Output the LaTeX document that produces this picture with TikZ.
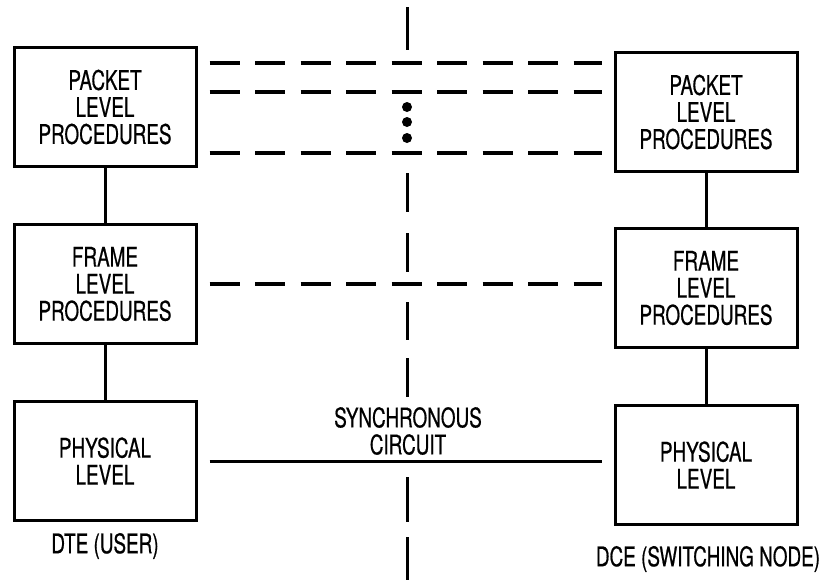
\documentclass[tikz,border=0pt]{standalone}
\usepackage{fontspec}
\setsansfont[FakeStretch=0.70, FakeBold=0.6]{TeX Gyre Heros}
\usepackage{tikz}
\usetikzlibrary{positioning,calc}
\newcommand{\lvlfont}{\sffamily\fontsize{13.5}{13.5}\selectfont}

\begin{document}
\begin{tikzpicture}[
    x=0.5pt, y=-0.5pt,
    layer/.style={draw, line width=1.5pt, minimum width=91pt, minimum height=59.5pt, align=center, font=\lvlfont},
    peer/.style={line width=1.6pt, dash pattern=on 15pt off 7.75pt, shorten <=6pt, shorten >=6pt},
    link/.style={line width=1.5pt},
    divider/.style={line width=1.5pt}
  ]
  \useasboundingbox (0,0) rectangle (835,580);

  % DTE side
  \node[layer] (lpkt) at (105,107) {PACKET\\LEVEL\\PROCEDURES};
  \node[layer] (lfrm) at (105,284) {FRAME\\LEVEL\\PROCEDURES};
  \node[layer] (lphy) at (105,461) {PHYSICAL\\LEVEL};
  \node[font=\lvlfont] (dte) at (105,546) {DTE (USER)};

  % DCE side
  \node[layer] (rpkt) at (706,112) {PACKET\\LEVEL\\PROCEDURES};
  \node[layer] (rfrm) at (706,288) {FRAME\\LEVEL\\PROCEDURES};
  \node[layer] (rphy) at (706,465) {PHYSICAL\\LEVEL};
  \node[font=\lvlfont] (dce) at (708,559) {DCE (SWITCHING NODE)};

  \draw[link] (lpkt)--(lfrm);
  \draw[link] (lfrm)--(lphy);
  \draw[link] (rpkt)--(rfrm);
  \draw[link] (rfrm)--(rphy);

  % Peer protocols
  \draw[peer] ([yshift=22pt]lpkt.east)--([yshift=22pt]lpkt.east -| rpkt.west);
  \draw[peer] ([yshift=7.5pt]lpkt.east)--([yshift=7.5pt]lpkt.east -| rpkt.west);
  \draw[peer] ([yshift=-23pt]lpkt.east)--([yshift=-23pt]lpkt.east -| rpkt.west);
  \draw[peer] (lfrm.east)--(lfrm.east -| rfrm.west);
  \draw[link, shorten <=6pt, shorten >=6pt] (lphy.east)--(lphy.east -| rphy.west);
  \node[font=\lvlfont, align=center] (sync) at (408,431) {SYNCHRONOUS\\CIRCUIT};

  \foreach \y in {107,122,138} \fill (407,\y) circle (2.5pt);

  % Interface
  \foreach \a/\b in {7/50, 173/212, 233/272, 302/340, 358/397, 477/522, 537/580}
    \draw[divider] (407,\a)--(407,\b);
\end{tikzpicture}
\end{document}
